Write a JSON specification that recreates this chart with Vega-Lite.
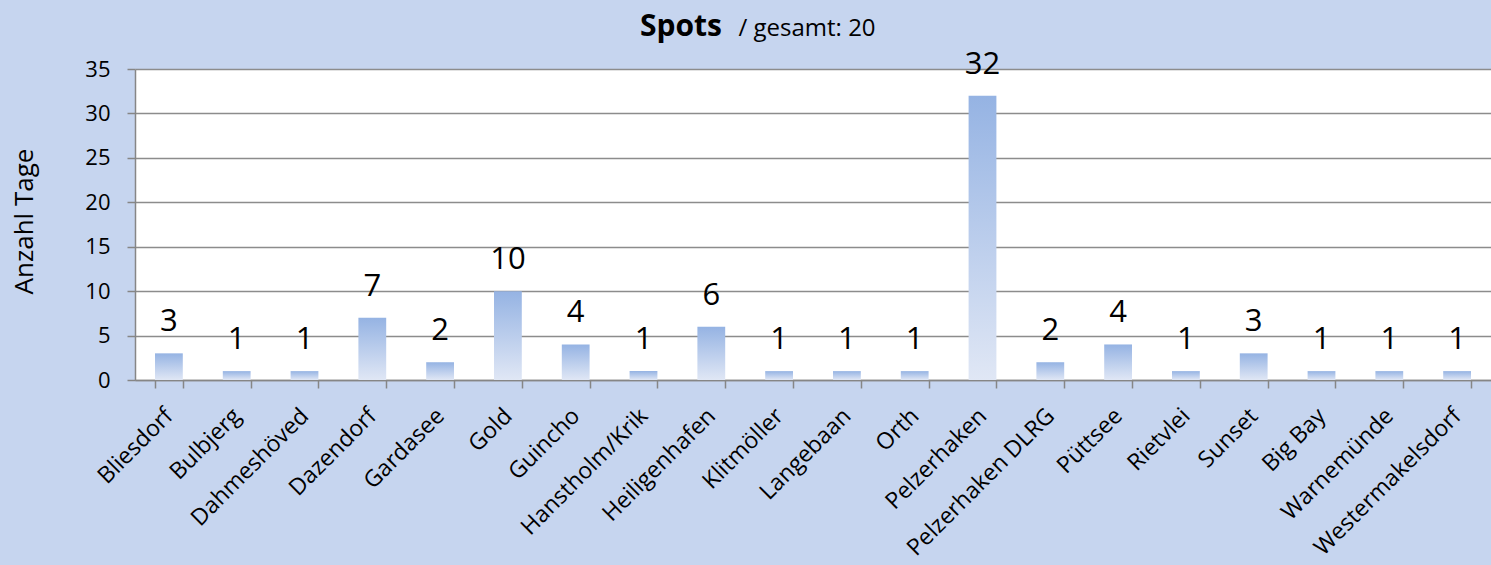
{
  "$schema": "https://vega.github.io/schema/vega-lite/v6.json",
  "autosize": "none",
  "width": 1356,
  "height": 311,
  "padding": {"left": 135, "top": 69, "right": 0, "bottom": 185},
  "background": "#c6d5ef",
  "title": {"text": "Spots", "anchor": "start", "frame": "group", "dx": 505, "dy": 30, "fontSize": 30, "fontWeight": "bold", "font": "Open Sans", "color": "#000000", "offset": 4},
  "data": {"values": [
    {"spot": "Bliesdorf", "tage": 3},
    {"spot": "Bulbjerg", "tage": 1},
    {"spot": "Dahmeshöved", "tage": 1},
    {"spot": "Dazendorf", "tage": 7},
    {"spot": "Gardasee", "tage": 2},
    {"spot": "Gold", "tage": 10},
    {"spot": "Guincho", "tage": 4},
    {"spot": "Hanstholm/Krik", "tage": 1},
    {"spot": "Heiligenhafen", "tage": 6},
    {"spot": "Klitmöller", "tage": 1},
    {"spot": "Langebaan", "tage": 1},
    {"spot": "Orth", "tage": 1},
    {"spot": "Pelzerhaken", "tage": 32},
    {"spot": "Pelzerhaken DLRG", "tage": 2},
    {"spot": "Püttsee", "tage": 4},
    {"spot": "Rietvlei", "tage": 1},
    {"spot": "Sunset", "tage": 3},
    {"spot": "Big Bay", "tage": 1},
    {"spot": "Warnemünde", "tage": 1},
    {"spot": "Westermakelsdorf", "tage": 1}
  ]},
  "config": {
    "view": {"fill": "#ffffff", "stroke": null},
    "font": "Open Sans"
  },
  "resolve": {"axis": {"x": "independent"}},
  "layer": [
    {
      "mark": {"type": "bar", "color": {"gradient": "linear", "x1": 0, "y1": 0, "x2": 0, "y2": 1, "stops": [{"offset": 0, "color": "#95b3e3"}, {"offset": 1, "color": "#e0e7f5"}]}},
      "encoding": {
        "x": {"field": "spot", "type": "nominal", "sort": null,
          "scale": {"paddingInner": 0.59, "paddingOuter": 0.295},
          "axis": {"orient": "bottom", "title": null, "labelAngle": -45, "labelAlign": "right", "labelBaseline": "middle", "labelFontSize": 23, "labelFont": "Open Sans", "labelColor": "#000000", "labelPadding": 24, "labelLimit": 400, "tickBand": "extent", "tickSize": 8, "tickColor": "#868686", "tickWidth": 1.5, "domainColor": "#868686", "domainWidth": 1.5, "grid": false, "labelOverlap": false}},
        "y": {"field": "tage", "type": "quantitative",
          "scale": {"domain": [0, 35], "nice": false},
          "axis": {"values": [0, 5, 10, 15, 20, 25, 30, 35], "title": "Anzahl Tage", "titleFontSize": 26, "titleFont": "Open Sans", "titleFontWeight": "normal", "titleColor": "#000000", "titleAngle": -90, "titleAlign": "center", "titleBaseline": "middle", "titleX": -111, "titleY": 152, "labelFontSize": 22, "labelFont": "Open Sans", "labelColor": "#000000", "labelPadding": 17, "tickSize": 8, "tickColor": "#868686", "tickWidth": 1.5, "domainColor": "#868686", "domainWidth": 1.5, "gridColor": "#8c8c8c", "gridWidth": 1.5}}
      }
    },
    {
      "mark": {"type": "text", "baseline": "alphabetic", "dy": -22, "fontSize": 31, "font": "Open Sans", "color": "#000000"},
      "encoding": {
        "x": {"field": "spot", "type": "nominal", "sort": null,
          "axis": {"orient": "top", "title": "/ gesamt: 20", "titleFontSize": 24, "titleFontWeight": "normal", "titleFont": "Open Sans", "titleColor": "#000000", "titleAlign": "left", "titleAnchor": "start", "titleBaseline": "alphabetic", "titleX": 603, "titleY": -34, "labels": false, "ticks": false, "domain": false, "grid": false}},
        "y": {"field": "tage", "type": "quantitative"},
        "text": {"field": "tage", "type": "quantitative"}
      }
    }
  ]
}
